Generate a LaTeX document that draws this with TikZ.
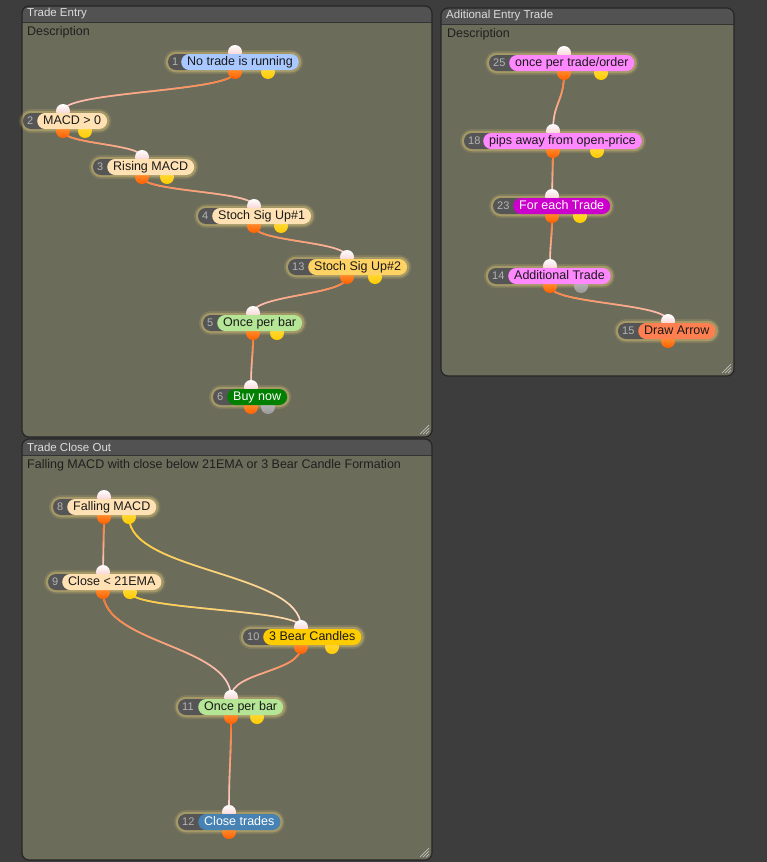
\documentclass[tikz,border=0pt]{standalone}
\usepackage{fontspec}
\setmainfont{Liberation Sans}
\usetikzlibrary{fadings}

\definecolor{deskgray}{HTML}{3D3D3D}
\definecolor{panelbody}{HTML}{6C6C5B}
\definecolor{titlegray}{HTML}{525252}
\definecolor{titletext}{HTML}{DCDCDC}
\definecolor{tabgray}{HTML}{555555}
\definecolor{numgray}{HTML}{B4B4B4}
\definecolor{peach}{HTML}{FFE1B4}
\definecolor{sky}{HTML}{A8C8FF}
\definecolor{gold}{HTML}{FFD264}
\definecolor{leaf}{HTML}{B4E696}
\definecolor{forest}{HTML}{008000}
\definecolor{orchid}{HTML}{FF88FF}
\definecolor{plum}{HTML}{CC00CC}
\definecolor{coralfill}{HTML}{FF7F50}
\definecolor{amber}{HTML}{FFCC00}
\definecolor{steel}{HTML}{4682B4}
\definecolor{glowcol}{HTML}{FFE27A}
\definecolor{wirepink}{HTML}{FFDCE4}
\definecolor{wireorange}{HTML}{FF6A10}
\definecolor{wireyellow}{HTML}{FFCC00}
\definecolor{inpink}{HTML}{F5C2C2}
\definecolor{outlight}{HTML}{FFA040}
\definecolor{outorange}{HTML}{FF5F00}

\pgfdeclarelayer{bg}
\pgfdeclarelayer{glow}
\pgfdeclarelayer{wires}
\pgfsetlayers{bg,glow,wires,main}

% panel: name, x1, y1, x2, y2, title
\newcommand\panel[6]{%
  \begin{scope}
    \clip[rounded corners=7pt] (#2,#3) rectangle (#4,#5);
    \fill[panelbody] (#2,#3) rectangle (#4,#5);
    \fill[titlegray] (#2,#3) rectangle (#4,#3+16);
    \draw[black!80, line width=1pt] (#2,#3+16) -- (#4,#3+16);
  \end{scope}
  \draw[black!85, line width=1.2pt, rounded corners=7pt] (#2,#3) rectangle (#4,#5);
  \node[titlefont] (#1) at (#2+5,#3+8) {#6};
  \foreach \k in {3,6,9} \draw[grip] (#4-3-\k,#5-3) -- (#4-3,#5-3-\k);}

% block: name, number, tab x, pill x, y, pill colours, label
\newcommand\block[7]{%
  \fill[tabfill] (#3,#5-8) rectangle (#4+12,#5+8);
  \node[numtext] (#1n) at (#3+4,#5) {#2};
  \node[pill,#6] (#1) at (#4,#5) {#7};
  \begin{pgfonlayer}{glow}
    \draw[glow, line width=6pt, opacity=0.12] (#3-1,#5-9) rectangle ([shift={(1,9)}]#1.east);
    \draw[glow] (#3-1,#5-9) rectangle ([shift={(1,9)}]#1.east);
  \end{pgfonlayer}}

\begin{document}
\begin{tikzpicture}[
  x=1pt, y=-1pt,
  titlefont/.style={anchor=west, inner sep=0pt, text=titletext, font=\fontsize{11.5}{13}\selectfont},
  descfont/.style={anchor=west, inner sep=0pt, text=black!88, font=\fontsize{12.5}{14}\selectfont},
  numtext/.style={anchor=west, inner sep=0pt, text=numgray, font=\fontsize{11}{12}\selectfont},
  pill/.style={anchor=west, rectangle, rounded corners=8pt, minimum height=16pt, inner xsep=6pt, inner ysep=0pt,
    text height=9pt, text depth=2.5pt, text=black!90, font=\fontsize{12.5}{14}\selectfont},
  tabfill/.style={fill=tabgray, rounded corners=8pt},
  glow/.style={draw=glowcol, line width=2.5pt, rounded corners=9pt, opacity=0.3},
  grip/.style={draw=white!75!black, line width=0.7pt},
  port/.style={circle, inner sep=0pt, minimum size=14pt},
  inport/.style={port, top color=white, bottom color=inpink},
  outport/.style={port, top color=outlight, bottom color=outorange},
  yport/.style={port, top color=amber!70!white, bottom color=amber},
  gport/.style={port, top color=black!25, bottom color=black!40},
  wire/.style={line width=1.6pt, draw=wirepink, postaction={draw=wireorange, path fading=south}},
  ywire/.style={line width=1.6pt, draw=wirepink, postaction={draw=wireyellow, path fading=south}}
]
\begin{pgfonlayer}{bg}
\fill[deskgray] (0,0) rectangle (767,862);
\panel{entry}{22}{6}{432}{437}{Trade Entry}
\panel{extra}{441}{8}{734}{376}{Aditional Entry Trade}
\panel{close}{22}{439}{432}{860}{Trade Close Out}
\end{pgfonlayer}
\useasboundingbox (0,0) rectangle (767,862);

\node[descfont] (entrydesc) at (27,32) {Description};
\node[descfont] (extradesc) at (447,34) {Description};
\node[descfont] (closedesc) at (27,465) {Falling MACD with close below 21EMA or 3 Bear Candle Formation};

% Trade Entry
\node[inport] (b1i) at (235,52) {};
\node[outport] (b1o) at (235,72) {};
\node[yport] (b1y) at (268,72) {};
\block{b1}{1}{168}{181}{62}{fill=sky}{No trade is running}

\node[inport] (b2i) at (63,111) {};
\node[outport] (b2o) at (63,131) {};
\node[yport] (b2y) at (85,131) {};
\block{b2}{2}{23}{37}{121}{fill=peach}{MACD > 0}

\node[inport] (b3i) at (142,157) {};
\node[outport] (b3o) at (142,177) {};
\node[yport] (b3y) at (167,177) {};
\block{b3}{3}{93}{107}{167}{fill=peach}{Rising MACD}

\node[inport] (b4i) at (254,206) {};
\node[outport] (b4o) at (254,226) {};
\node[yport] (b4y) at (281,226) {};
\block{b4}{4}{198}{212}{216}{fill=peach}{Stoch Sig Up\#1}

\node[inport] (b13i) at (347,257) {};
\node[outport] (b13o) at (347,277) {};
\node[yport] (b13y) at (375,277) {};
\block{b13}{13}{288}{308}{267}{fill=gold}{Stoch Sig Up\#2}

\node[inport] (b5i) at (253,313) {};
\node[outport] (b5o) at (253,333) {};
\node[yport] (b5y) at (277,333) {};
\block{b5}{5}{203}{217}{323}{fill=leaf}{Once per bar}

\node[inport] (b6i) at (251,387) {};
\node[outport] (b6o) at (251,407) {};
\node[gport] (b6g) at (268,407) {};
\block{b6}{6}{213}{227}{397}{fill=forest, text=white}{Buy now}

% Aditional Entry Trade
\node[inport] (b25i) at (564,53) {};
\node[outport] (b25o) at (564,73) {};
\node[yport] (b25y) at (601,73) {};
\block{b25}{25}{489}{509}{63}{fill=orchid}{once per trade/order}

\node[inport] (b18i) at (553,131) {};
\node[outport] (b18o) at (553,151) {};
\node[yport] (b18y) at (597,151) {};
\block{b18}{18}{464}{483}{141}{fill=orchid}{pips away from open-price}

\node[inport] (b23i) at (552,196) {};
\node[outport] (b23o) at (552,216) {};
\node[yport] (b23y) at (580,216) {};
\block{b23}{23}{493}{513}{206}{fill=plum, text=white}{For each Trade}

\node[inport] (b14i) at (550,266) {};
\node[outport] (b14o) at (550,286) {};
\node[gport] (b14g) at (581,286) {};
\block{b14}{14}{488}{508}{276}{fill=orchid}{Additional Trade}

\node[inport] (b15i) at (668,321) {};
\node[outport] (b15o) at (668,341) {};
\block{b15}{15}{618}{638}{331}{fill=coralfill}{Draw Arrow}

% Trade Close Out
\node[inport] (b8i) at (104,497) {};
\node[outport] (b8o) at (104,517) {};
\node[yport] (b8y) at (129,517) {};
\block{b8}{8}{53}{67}{507}{fill=peach}{Falling MACD}

\node[inport] (b9i) at (103,572) {};
\node[outport] (b9o) at (103,592) {};
\node[yport] (b9y) at (130,592) {};
\block{b9}{9}{48}{62}{582}{fill=peach}{Close < 21EMA}

\node[inport] (b10i) at (301,627) {};
\node[outport] (b10o) at (301,647) {};
\node[yport] (b10y) at (332,647) {};
\block{b10}{10}{243}{263}{637}{fill=amber}{3 Bear Candles}

\node[inport] (b11i) at (231,697) {};
\node[outport] (b11o) at (231,717) {};
\node[yport] (b11y) at (257,717) {};
\block{b11}{11}{178}{198}{707}{fill=leaf}{Once per bar}

\node[inport] (b12i) at (229,812) {};
\node[outport] (b12o) at (229,832) {};
\block{b12}{12}{178}{198}{822}{fill=steel, text=white}{Close trades}

\begin{pgfonlayer}{wires}
\draw[wire] (b1o.center) .. controls +(0,20) and +(0,-20) .. (b2i.center);
\draw[wire] (b2o.center) .. controls +(0,13) and +(0,-13) .. (b3i.center);
\draw[wire] (b3o.center) .. controls +(0,15) and +(0,-15) .. (b4i.center);
\draw[wire] (b4o.center) .. controls +(0,16) and +(0,-16) .. (b13i.center);
\draw[wire] (b13o.center) .. controls +(0,18) and +(0,-18) .. (b5i.center);
\draw[wire] (b5o.center) .. controls +(0,27) and +(0,-27) .. (b6i.center);
\draw[wire] (b25o.center) .. controls +(0,29) and +(0,-29) .. (b18i.center);
\draw[wire] (b18o.center) .. controls +(0,22) and +(0,-22) .. (b23i.center);
\draw[wire] (b23o.center) .. controls +(0,25) and +(0,-25) .. (b14i.center);
\draw[wire] (b14o.center) .. controls +(0,18) and +(0,-18) .. (b15i.center);
\draw[wire] (b8o.center) .. controls +(0,27) and +(0,-27) .. (b9i.center);
\draw[ywire] (b8y.center) .. controls +(0,55) and +(0,-55) .. (b10i.center);
\draw[ywire] (b9y.center) .. controls +(0,18) and +(0,-18) .. (b10i.center);
\draw[wire] (b9o.center) .. controls +(0,52) and +(0,-52) .. (b11i.center);
\draw[wire] (b10o.center) .. controls +(0,25) and +(0,-25) .. (b11i.center);
\draw[wire] (b11o.center) .. controls +(0,47) and +(0,-47) .. (b12i.center);
\end{pgfonlayer}
\end{tikzpicture}
\end{document}
